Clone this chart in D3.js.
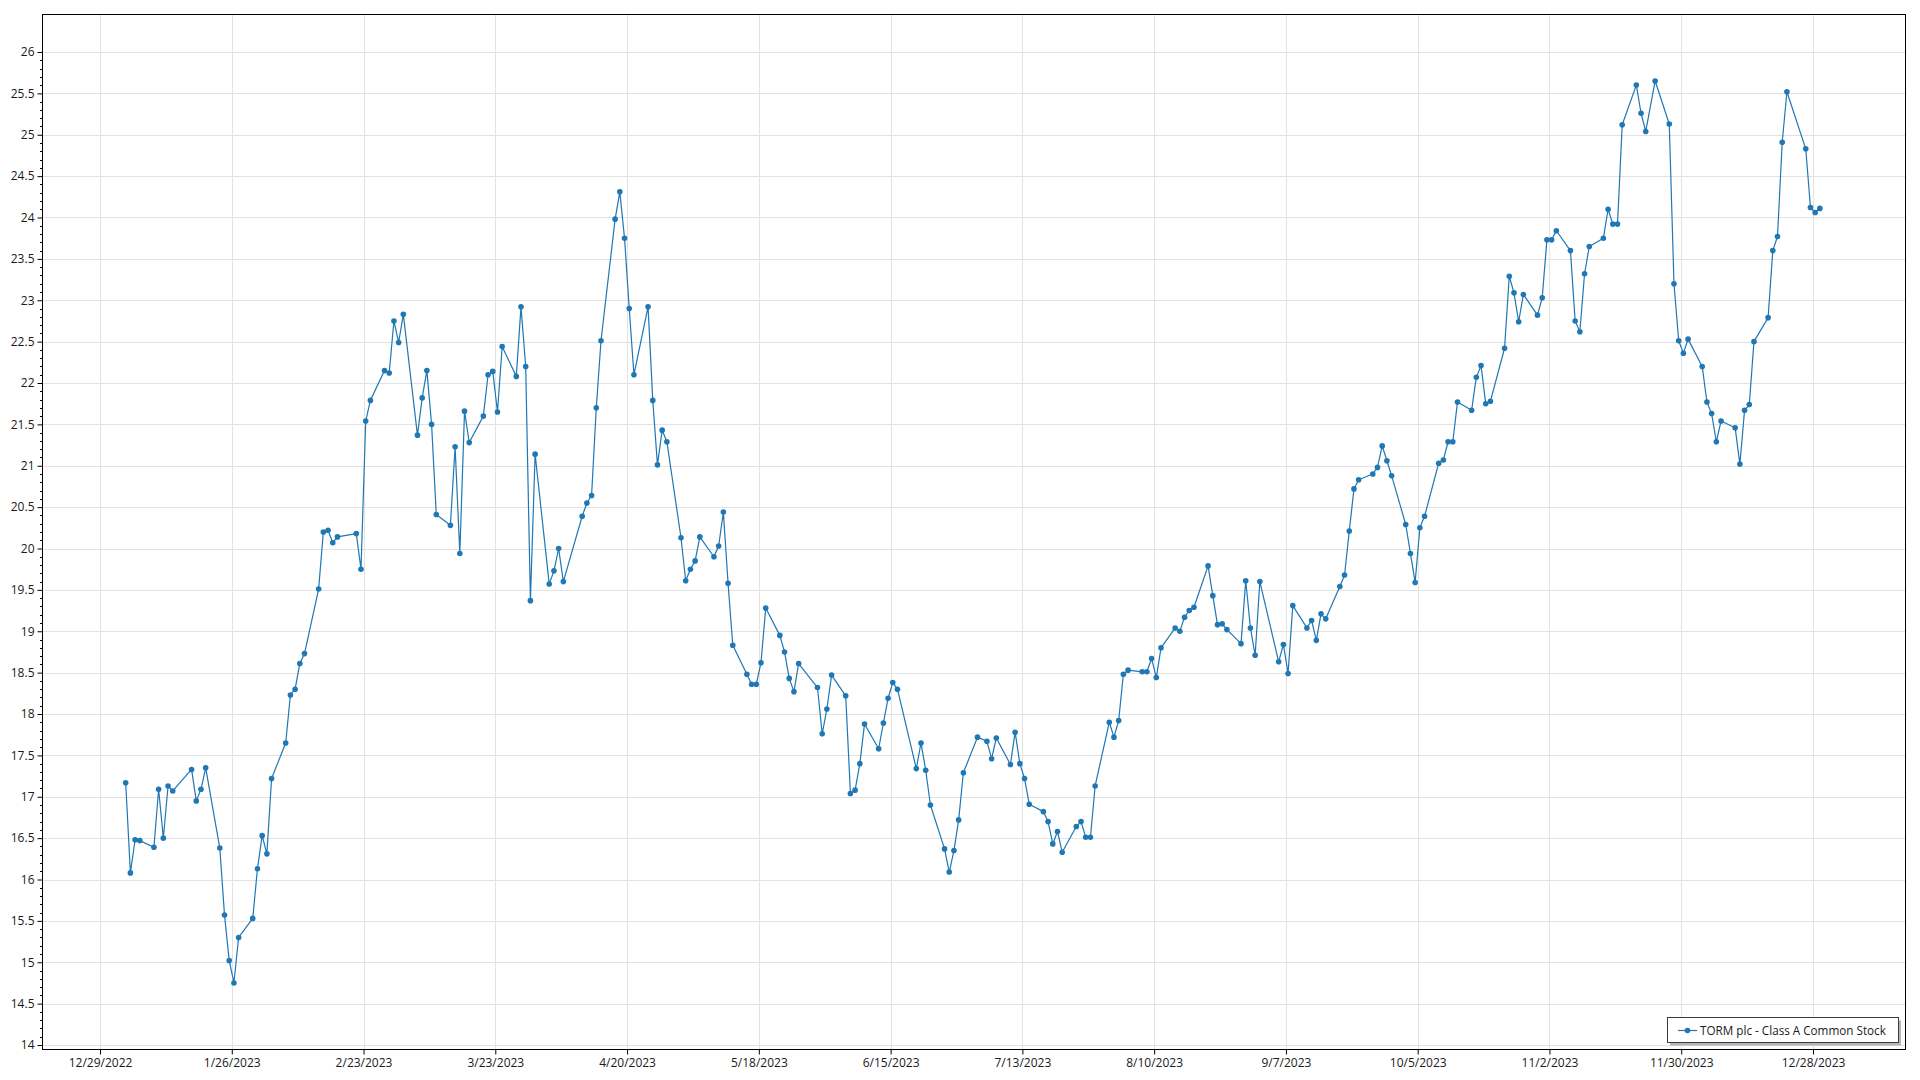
<!DOCTYPE html>
<html>
<head>
<meta charset="utf-8">
<script src="https://cdn.jsdelivr.net/npm/d3@7"></script>
<style>
  html, body { margin: 0; padding: 0; background: #fff; }
  svg { display: block; }
  text { font-family: "Segoe UI", "Open Sans", "Noto Sans", sans-serif; }
</style>
</head>
<body>
<svg id="chart" width="1920" height="1080"></svg>
<script>
// ---- Data (TORM plc - Class A Common Stock, daily close, 2023) ----
const seriesName = "TORM plc - Class A Common Stock";

const tradeDates = [
  "2023-01-03","2023-01-04","2023-01-05","2023-01-06","2023-01-09","2023-01-10","2023-01-11","2023-01-12","2023-01-13","2023-01-17",
  "2023-01-18","2023-01-19","2023-01-20","2023-01-23","2023-01-24","2023-01-25","2023-01-26","2023-01-27","2023-01-30","2023-01-31",
  "2023-02-01","2023-02-02","2023-02-03","2023-02-06","2023-02-07","2023-02-08","2023-02-09","2023-02-10","2023-02-13","2023-02-14",
  "2023-02-15","2023-02-16","2023-02-17","2023-02-21","2023-02-22","2023-02-23","2023-02-24","2023-02-27","2023-02-28",
  "2023-03-01","2023-03-02","2023-03-03","2023-03-06","2023-03-07","2023-03-08","2023-03-09","2023-03-10","2023-03-13","2023-03-14",
  "2023-03-15","2023-03-16","2023-03-17","2023-03-20","2023-03-21","2023-03-22","2023-03-23","2023-03-24","2023-03-27","2023-03-28",
  "2023-03-29","2023-03-30","2023-03-31",
  "2023-04-03","2023-04-04","2023-04-05","2023-04-06","2023-04-10","2023-04-11","2023-04-12","2023-04-13","2023-04-14","2023-04-17",
  "2023-04-18","2023-04-19","2023-04-20","2023-04-21","2023-04-24","2023-04-25","2023-04-26","2023-04-27","2023-04-28",
  "2023-05-01","2023-05-02","2023-05-03","2023-05-04","2023-05-05","2023-05-08","2023-05-09","2023-05-10","2023-05-11","2023-05-12",
  "2023-05-15","2023-05-16","2023-05-17","2023-05-18","2023-05-19","2023-05-22","2023-05-23","2023-05-24","2023-05-25","2023-05-26",
  "2023-05-30","2023-05-31",
  "2023-06-01","2023-06-02","2023-06-05","2023-06-06","2023-06-07","2023-06-08","2023-06-09","2023-06-12","2023-06-13","2023-06-14",
  "2023-06-15","2023-06-16","2023-06-20","2023-06-21","2023-06-22","2023-06-23","2023-06-26","2023-06-27","2023-06-28","2023-06-29",
  "2023-06-30",
  "2023-07-03","2023-07-05","2023-07-06","2023-07-07","2023-07-10","2023-07-11","2023-07-12","2023-07-13","2023-07-14","2023-07-17",
  "2023-07-18","2023-07-19","2023-07-20","2023-07-21","2023-07-24","2023-07-25","2023-07-26","2023-07-27","2023-07-28","2023-07-31",
  "2023-08-01","2023-08-02","2023-08-03","2023-08-04","2023-08-07","2023-08-08","2023-08-09","2023-08-10","2023-08-11","2023-08-14",
  "2023-08-15","2023-08-16","2023-08-17","2023-08-18","2023-08-21","2023-08-22","2023-08-23","2023-08-24","2023-08-25","2023-08-28",
  "2023-08-29","2023-08-30","2023-08-31",
  "2023-09-01","2023-09-05","2023-09-06","2023-09-07","2023-09-08","2023-09-11","2023-09-12","2023-09-13","2023-09-14","2023-09-15",
  "2023-09-18","2023-09-19","2023-09-20","2023-09-21","2023-09-22","2023-09-25","2023-09-26","2023-09-27","2023-09-28","2023-09-29",
  "2023-10-02","2023-10-03","2023-10-04","2023-10-05","2023-10-06","2023-10-09","2023-10-10","2023-10-11","2023-10-12","2023-10-13",
  "2023-10-16","2023-10-17","2023-10-18","2023-10-19","2023-10-20","2023-10-23","2023-10-24","2023-10-25","2023-10-26","2023-10-27",
  "2023-10-30","2023-10-31",
  "2023-11-01","2023-11-02","2023-11-03","2023-11-06","2023-11-07","2023-11-08","2023-11-09","2023-11-10","2023-11-13","2023-11-14",
  "2023-11-15","2023-11-16","2023-11-17","2023-11-20","2023-11-21","2023-11-22","2023-11-24","2023-11-27","2023-11-28","2023-11-29",
  "2023-11-30",
  "2023-12-01","2023-12-04","2023-12-05","2023-12-06","2023-12-07","2023-12-08","2023-12-11","2023-12-12","2023-12-13","2023-12-14",
  "2023-12-15","2023-12-18","2023-12-19","2023-12-20","2023-12-21","2023-12-22","2023-12-26","2023-12-27","2023-12-28","2023-12-29"
];

const closes = [
  17.17,16.08,16.48,16.47,16.39,17.09,16.50,17.13,17.07,17.33,
  16.95,17.09,17.35,16.38,15.57,15.02,14.75,15.30,15.53,16.13,
  16.53,16.31,17.22,17.65,18.23,18.30,18.61,18.73,19.51,20.20,
  20.22,20.07,20.14,20.18,19.75,21.54,21.79,22.15,22.12,
  22.75,22.49,22.83,21.37,21.82,22.15,21.50,20.41,20.28,21.23,
  19.94,21.66,21.28,21.60,22.10,22.14,21.65,22.44,22.08,22.92,
  22.20,19.37,21.14,
  19.57,19.73,20.00,19.60,20.39,20.55,20.64,21.70,22.51,23.98,
  24.31,23.75,22.90,22.10,22.92,21.79,21.01,21.43,21.29,
  20.13,19.61,19.75,19.85,20.14,19.90,20.03,20.44,19.58,18.83,
  18.48,18.36,18.36,18.62,19.28,18.95,18.75,18.43,18.27,18.61,
  18.32,17.76,
  18.06,18.47,18.22,17.04,17.08,17.40,17.88,17.58,17.89,18.19,
  18.38,18.30,17.34,17.65,17.32,16.90,16.37,16.09,16.35,16.72,
  17.29,
  17.72,17.67,17.46,17.71,17.39,17.78,17.40,17.22,16.91,16.82,
  16.70,16.43,16.58,16.33,16.64,16.70,16.51,16.51,17.13,17.90,
  17.72,17.92,18.48,18.53,18.51,18.51,18.67,18.44,18.80,19.04,
  19.00,19.17,19.25,19.29,19.79,19.43,19.08,19.09,19.02,18.85,
  19.61,19.04,18.71,
  19.60,18.63,18.84,18.49,19.31,19.04,19.13,18.89,19.21,19.15,
  19.54,19.68,20.21,20.72,20.83,20.90,20.98,21.24,21.06,20.88,
  20.29,19.94,19.59,20.25,20.39,21.03,21.07,21.29,21.29,21.77,
  21.67,22.07,22.21,21.75,21.78,22.42,23.29,23.09,22.74,23.07,
  22.82,23.03,
  23.73,23.73,23.84,23.60,22.75,22.62,23.32,23.65,23.75,24.10,
  23.92,23.92,25.12,25.60,25.26,25.04,25.65,25.13,23.20,22.51,
  22.36,
  22.53,22.20,21.77,21.63,21.29,21.54,21.46,21.02,21.67,21.74,
  22.50,22.79,23.60,23.77,24.91,25.52,24.83,24.12,24.06,24.11
];

const xTickDates = [
  "2022-12-29","2023-01-26","2023-02-23","2023-03-23","2023-04-20","2023-05-18","2023-06-15",
  "2023-07-13","2023-08-10","2023-09-07","2023-10-05","2023-11-02","2023-11-30","2023-12-28"
];
const yTicks = [14,14.5,15,15.5,16,16.5,17,17.5,18,18.5,19,19.5,20,20.5,21,21.5,22,22.5,23,23.5,24,24.5,25,25.5,26];

// ---- Layout ----
const W = 1920, H = 1080;
const plot = { left: 42.5, right: 1905.5, top: 14.5, bottom: 1049.5 };
const lineColor = "#1f77b4";
const gridColor = "#e2e2e2";
const textColor = "#1a1a1a";

const parseDay = d3.timeParse("%Y-%m-%d");
const parseObs = d3.timeParse("%Y-%m-%dT%H:%M");

const data = tradeDates.map((d, i) => ({ date: parseObs(d + "T11:00"), value: closes[i] }));
const tickDates = xTickDates.map(parseDay);

const x = d3.scaleTime()
  .domain([tickDates[0], tickDates[tickDates.length - 1]])
  .range([100, 1813]);
const y = d3.scaleLinear()
  .domain([14, 26])
  .range([1045, 52]);

const svg = d3.select("#chart");
svg.append("rect").attr("width", W).attr("height", H).attr("fill", "#fff");

svg.append("clipPath").attr("id", "clip")
  .append("rect")
  .attr("x", plot.left).attr("y", plot.top)
  .attr("width", plot.right - plot.left).attr("height", plot.bottom - plot.top);

// grid
const grid = svg.append("g").attr("class", "grid");
grid.selectAll("line.h").data(yTicks).join("line")
  .attr("class", "h")
  .attr("x1", plot.left).attr("x2", plot.right)
  .attr("y1", d => Math.round(y(d)) + 0.5).attr("y2", d => Math.round(y(d)) + 0.5)
  .attr("stroke", gridColor).attr("stroke-width", 1);
grid.selectAll("line.v").data(tickDates).join("line")
  .attr("class", "v")
  .attr("x1", d => Math.round(x(d)) + 0.5).attr("x2", d => Math.round(x(d)) + 0.5)
  .attr("y1", plot.top).attr("y2", plot.bottom)
  .attr("stroke", gridColor).attr("stroke-width", 1);

// minor y ticks (0.1 step)
const minorY = d3.range(140, 261).map(v => v / 10).filter(v => Math.abs(v * 2 - Math.round(v * 2)) > 1e-6);
svg.append("g").selectAll("line").data(minorY).join("line")
  .attr("x1", plot.left - 2.5).attr("x2", plot.left)
  .attr("y1", d => Math.round(y(d)) + 0.5).attr("y2", d => Math.round(y(d)) + 0.5)
  .attr("stroke", "#000").attr("stroke-width", 1);

// axes
const yAxis = d3.axisLeft(y).tickValues(yTicks).tickSize(5).tickPadding(3).tickFormat(d3.format(""));
const gy = svg.append("g").attr("transform", `translate(${plot.left},0)`).call(yAxis);
gy.select(".domain").remove();
gy.selectAll(".tick line").attr("stroke", "#000");
gy.selectAll(".tick text").attr("fill", textColor).style("font-size", "12px")
  .style("font-family", '"Segoe UI", "Open Sans", "Noto Sans", sans-serif');

const xAxis = d3.axisBottom(x).tickValues(tickDates).tickSize(5).tickPadding(4)
  .tickFormat(d3.timeFormat("%-m/%-d/%Y"));
const gx = svg.append("g").attr("transform", `translate(0,${plot.bottom})`).call(xAxis);
gx.select(".domain").remove();
gx.selectAll(".tick line").attr("stroke", "#000");
gx.selectAll(".tick text").attr("fill", textColor).style("font-size", "12px")
  .style("font-family", '"Segoe UI", "Open Sans", "Noto Sans", sans-serif');

// series
const gSeries = svg.append("g").attr("clip-path", "url(#clip)");
const line = d3.line().x(d => x(d.date)).y(d => y(d.value));
gSeries.append("path").datum(data)
  .attr("d", line).attr("fill", "none")
  .attr("stroke", lineColor).attr("stroke-width", 1.2).attr("stroke-linejoin", "round");
gSeries.selectAll("circle").data(data).join("circle")
  .attr("cx", d => x(d.date)).attr("cy", d => y(d.value)).attr("r", 2.8)
  .attr("fill", lineColor);

// frame
svg.append("rect")
  .attr("x", plot.left).attr("y", plot.top)
  .attr("width", plot.right - plot.left).attr("height", plot.bottom - plot.top)
  .attr("fill", "none").attr("stroke", "#000").attr("stroke-width", 1);

// legend
const lg = { x: 1667, y: 1017.5, w: 231, h: 25 };
const legend = svg.append("g");
legend.append("rect")
  .attr("x", lg.x + 3).attr("y", lg.y + 3).attr("width", lg.w).attr("height", lg.h)
  .attr("fill", "#b5b5b5");
legend.append("rect")
  .attr("x", lg.x + 0.5).attr("y", lg.y).attr("width", lg.w).attr("height", lg.h)
  .attr("fill", "#fff").attr("stroke", "#3c3c3c").attr("stroke-width", 1);
const ly = lg.y + lg.h / 2 + 0.5;
legend.append("line")
  .attr("x1", lg.x + 11).attr("x2", lg.x + 30).attr("y1", ly).attr("y2", ly)
  .attr("stroke", lineColor).attr("stroke-width", 1.2);
legend.append("circle").attr("cx", lg.x + 20.5).attr("cy", ly).attr("r", 2.8).attr("fill", lineColor);
legend.append("text")
  .attr("x", lg.x + 33).attr("y", ly).attr("dy", "0.35em")
  .attr("fill", textColor).style("font-size", "11.7px")
  .text(seriesName);
</script>
</body>
</html>
